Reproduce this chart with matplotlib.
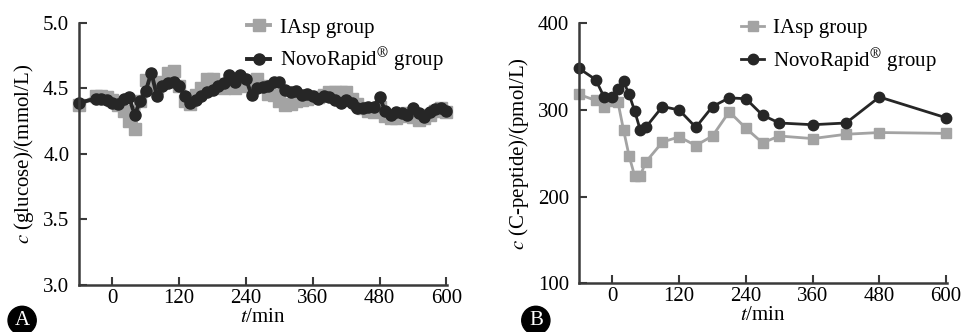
import matplotlib
import matplotlib.pyplot as plt

matplotlib.use("Agg")

plt.rcParams["font.family"] = ["Liberation Serif", "DejaVu Serif"]
plt.rcParams["mathtext.fontset"] = "stix"

# panel A: glucose, mmol/L
t_glucose = [-60, -30, -20, -10, 0, 10, 20, 30, 40, 50, 60, 70, 80, 90, 100, 110, 120,
             130, 140, 150, 160, 170, 180, 190, 200, 210, 220, 230, 240, 250, 260, 270,
             280, 290, 300, 310, 320, 330, 340, 350, 360, 370, 380, 390, 400, 410, 420,
             430, 440, 450, 460, 470, 480, 490, 500, 510, 520, 530, 540, 550, 560, 570,
             580, 590, 600]
glucose_iasp = [4.37, 4.44, 4.44, 4.43, 4.41, 4.37, 4.33, 4.25, 4.19, 4.40, 4.56, 4.55,
                4.50, 4.55, 4.62, 4.63, 4.52, 4.40, 4.38, 4.45, 4.50, 4.57, 4.57, 4.53,
                4.50, 4.52, 4.50, 4.55, 4.52, 4.52, 4.57, 4.52, 4.46, 4.45, 4.40, 4.37,
                4.38, 4.40, 4.41, 4.42, 4.43, 4.43, 4.45, 4.47, 4.47, 4.47, 4.47, 4.42,
                4.38, 4.35, 4.33, 4.32, 4.36, 4.29, 4.27, 4.27, 4.29, 4.31, 4.28, 4.26,
                4.27, 4.30, 4.33, 4.35, 4.32]
glucose_novo = [4.39, 4.42, 4.415, 4.41, 4.39, 4.38, 4.42, 4.43, 4.30, 4.40, 4.48, 4.62,
                4.44, 4.52, 4.54, 4.55, 4.52, 4.44, 4.39, 4.41, 4.44, 4.47, 4.49, 4.52,
                4.54, 4.60, 4.55, 4.60, 4.57, 4.45, 4.50, 4.51, 4.52, 4.55, 4.55, 4.49,
                4.47, 4.48, 4.45, 4.46, 4.44, 4.42, 4.44, 4.43, 4.41, 4.39, 4.41, 4.39,
                4.35, 4.35, 4.36, 4.36, 4.43, 4.33, 4.30, 4.32, 4.31, 4.30, 4.35, 4.31,
                4.28, 4.32, 4.34, 4.35, 4.33]

# panel B: C-peptide, pmol/L
t_cpep = [-60, -30, -15, 0, 10, 20, 30, 40, 50, 60, 90, 120, 150, 180, 210, 240, 270,
          300, 360, 420, 480, 600]
cpep_iasp = [318, 311, 304, 310, 309, 277, 247, 224, 224, 240, 263, 269, 259, 270, 298,
             279, 262, 270, 267, 272, 274, 273]
cpep_novo = [348, 335, 315, 315, 324, 333, 318, 299, 277, 280, 304, 300, 280, 304, 314,
             313, 294, 285, 283, 285, 315, 291]

x_ticks = [0, 120, 240, 360, 480, 600]
grey = "#a3a3a3"
dark = "#262626"

fig = plt.figure(figsize=(9.62, 3.32), dpi=100)
ax_a = fig.add_axes([0.0821, 0.1416, 0.3825, 0.790])
ax_b = fig.add_axes([0.6019, 0.1467, 0.3822, 0.783])


def style_axes(ax, ylabel):
    for side in ("top", "right"):
        ax.spines[side].set_visible(False)
    for side in ("left", "bottom"):
        ax.spines[side].set_color("#3a3a3a")
        ax.spines[side].set_linewidth(1.8)
    ax.tick_params(direction="in", length=6, width=1.5, color="#3a3a3a",
                   labelsize=15)
    ax.tick_params(axis="y", pad=7)
    ax.tick_params(axis="x", pad=3)
    ax.set_xticks(x_ticks)
    ax.set_xlim(-60, 601)
    ax.set_xlabel("$t$/min", fontsize=15, labelpad=0)
    ax.set_ylabel(ylabel, fontsize=15, labelpad=5)


ax_a.plot(t_glucose, glucose_iasp, color=grey, marker="s", markersize=8,
          linewidth=2.8, label="IAsp group", clip_on=False)
ax_a.plot(t_glucose, glucose_novo, color=dark, marker="o", markersize=8,
          linewidth=2.8, label="NovoRapid$^{®}$ group", clip_on=False)
ax_a.set_ylim(3.0, 5.0)
ax_a.set_yticks([3.0, 3.5, 4.0, 4.5, 5.0])
style_axes(ax_a, "$c$ (glucose)/(mmol/L)")

ax_b.plot(t_cpep, cpep_iasp, color=grey, marker="s", markersize=7.5,
          linewidth=2, label="IAsp group", clip_on=False)
ax_b.plot(t_cpep, cpep_novo, color=dark, marker="o", markersize=7.5,
          linewidth=2, label="NovoRapid$^{®}$ group", clip_on=False)
ax_b.set_ylim(100, 400)
ax_b.set_yticks([100, 200, 300, 400])
style_axes(ax_b, "$c$ (C-peptide)/(pmol/L)")

for ax, x0 in ((ax_a, 0.435), (ax_b, 0.418)):
    ax.legend(loc="upper left", bbox_to_anchor=(x0, 1.05), frameon=False,
              fontsize=15, handlelength=1.1, handletextpad=0.45, labelspacing=0.4,
              borderaxespad=0)

for label, x in (("A", 0.023), ("B", 0.557)):
    fig.text(x, 0.035, label, color="white", fontsize=15, ha="center", va="center",
             bbox=dict(boxstyle="circle,pad=0.22", fc="black", ec="black"))

fig.savefig("out.png", dpi=100)
